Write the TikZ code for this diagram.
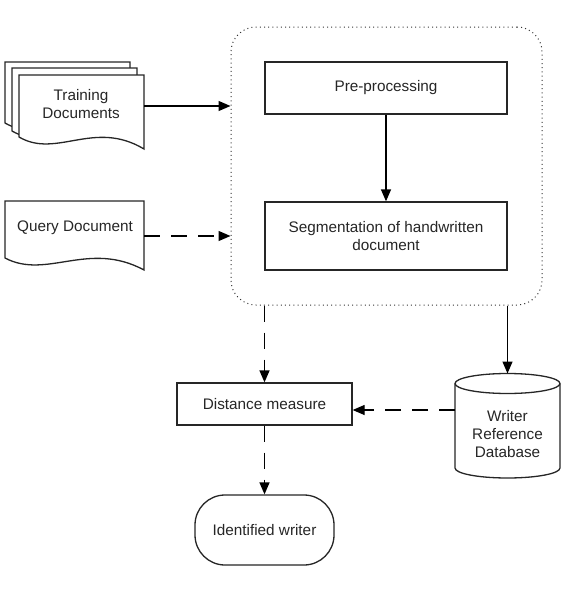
\documentclass[tikz,border=0pt]{standalone}
\usepackage{fontspec}
\setmainfont{Liberation Sans}
\usetikzlibrary{arrows.meta}
\newcommand\docpath[4]{% x1, ytop, x2, yleftbottom
  \pgfmathsetmacro\dw{#3-#1}%
  \draw[shp] (#1,#2) -- (#3,#2) -- (#3,#4+12)
    .. controls ({#1+0.6*\dw},#4-18) and ({#1+0.3*\dw},#4+22) .. (#1,#4) -- cycle;}
\begin{document}
\begin{tikzpicture}[x=1pt,y=-1pt,
  every node/.style={font=\fontsize{15.3}{18}\selectfont, text=black!85},
  shp/.style={draw=black!85, line width=1.3pt, fill=white},
  box/.style={shp, rectangle, align=center, inner sep=0pt},
  arr/.style={draw=black, line width=1.3pt, -{Triangle[length=12pt,width=10pt]}},
  dsh/.style={arr, dash pattern=on 16pt off 11pt}]
\useasboundingbox (0,0) rectangle (564,589);
% group
\node[draw=black!80, line width=1pt, dash pattern=on 1pt off 3.2pt, rounded corners=25pt,
  minimum width=311pt, minimum height=278pt, inner sep=0pt] (grp) at (386.5,166) {};
\node[box, minimum width=242pt, minimum height=52pt] (pre) at (386,88) {Pre-processing};
\node[box, minimum width=242pt, minimum height=68pt] (seg) at (386,236)
  {Segmentation of handwritten\\document};
\draw[arr] (pre) -- (seg);
% training documents
\docpath{5}{62}{130}{123}
\docpath{12}{68}{137}{131}
\docpath{19}{75}{144}{137}
\node[align=center] (train) at (81,104) {Training\\Documents};
\coordinate (trainR) at (144,106);
\draw[arr] (trainR) -- (grp.west |- trainR);
% query document
\docpath{5}{201}{144}{258}
\node (query) at (75,228) {Query Document};
\coordinate (queryR) at (144,236);
\draw[dsh] (queryR) -- (grp.west |- queryR);
% distance
\node[box, minimum width=175pt, minimum height=42pt] (dist) at (264.5,404) {Distance measure};
\draw[dsh] (grp.south -| dist.north) -- (dist.north);
% database
\draw[shp] (455,383.5) -- (455,468) arc (180:360:52.5pt and 10pt) -- (560,383.5);
\draw[shp] (507.5,383.5) ellipse (52.5pt and 10pt);
\node[align=center] (db) at (507.5,434) {Writer\\Reference\\Database};
\coordinate (dbtop) at (507.5,373.5);
\coordinate (dbL) at (455,410);
\draw[arr] (grp.south -| dbtop) -- (dbtop);
\draw[dsh] (dbL) -- (dist.east |- dbL);
% identified
\node[box, rounded corners=30pt, minimum width=139pt, minimum height=70pt] (ident) at (264.5,530) {Identified writer};
\draw[dsh] (dist.south) -- (ident.north);
\end{tikzpicture}
\end{document}
